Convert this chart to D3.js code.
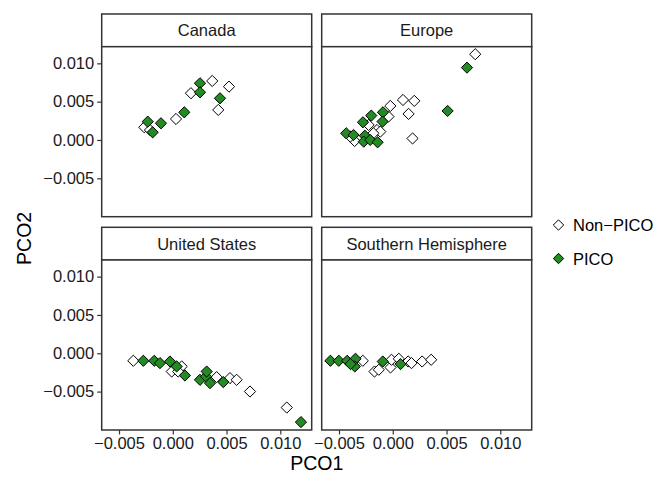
<!DOCTYPE html>
<html><head><meta charset="utf-8">
<script src="https://cdn.jsdelivr.net/npm/d3@7"></script>
<style>body{margin:0;background:#fff}text{font-family:"Liberation Sans",Arial,Helvetica,sans-serif}</style>
</head><body>
<svg id="c" width="656" height="479"></svg>
<script>
// ---- data ----
const regions = ["Canada", "Europe", "United States", "Southern Hemisphere"];
const groups = ["Non\u2212PICO", "PICO"];
const xTicks = [-0.005, 0.000, 0.005, 0.010];
const yTicks = [-0.005, 0.000, 0.005, 0.010];

const canadaNonPico = [[-0.00265,0.00166],[-0.00212,0.0013],[0.0003,0.00274],[0.00169,0.0061],[0.00367,0.0077],[0.00523,0.00696],[0.00423,0.00392]];
const canadaPico = [[-0.00233,0.00239],[-0.0011,0.00218],[-0.00187,0.0010],[0.00107,0.00361],[0.00253,0.0074],[0.00253,0.00622],[0.00439,0.00544]];

const europeNonPico = [[0.00767,0.01119],[0.00095,0.00522],[0.0020,0.0051],[0.00147,0.0034],[-0.00023,0.00444],[-0.0004,0.00305],[0.00184,0.0002],[-0.00147,0.0013],[-0.00225,0.00196],[-0.00116,0.00109],[-0.00355,-0.00013],[-0.00395,0.00044],[-0.0018,0.00087]];
const europePico = [[0.0069,0.00944],[0.0051,0.00379],[-0.00091,0.00361],[-0.0020,0.00318],[-0.00277,0.00231],[-0.00095,0.0024],[-0.00433,0.00087],[-0.00365,0.00065],[-0.0026,0.00056],[-0.0027,-0.00022],[-0.0021,0.0],[-0.00141,-0.0003]];

const usNonPico = [[-0.00367,-0.00098],[-0.0001,-0.00238],[0.00083,-0.00172],[0.0005,-0.00238],[0.00408,-0.00311],[0.00532,-0.00324],[0.00594,-0.00346],[0.00718,-0.00499],[0.0106,-0.00708]];
const usPico = [[-0.00274,-0.00098],[-0.00172,-0.00098],[-0.00119,-0.00128],[-0.00026,-0.00107],[0.00036,-0.00172],[0.00113,-0.0029],[0.00253,-0.00346],[0.00309,-0.00303],[0.00346,-0.00389],[0.00315,-0.00238],[0.0047,-0.00376],[0.01192,-0.00898]];

const shNonPico = [[-0.00279,-0.00098],[-0.0017,-0.00238],[-0.0013,-0.00215],[-0.00021,-0.00185],[-0.00012,-0.00085],[0.00056,-0.00072],[0.00143,-0.00107],[0.00174,-0.00128],[0.00273,-0.00107],[0.00357,-0.00085]];
const shPico = [[-0.0058,-0.00098],[-0.00502,-0.00098],[-0.00424,-0.00098],[-0.00347,-0.00072],[-0.00353,-0.00172],[-0.00393,-0.00141],[-0.00093,-0.00107],[0.00072,-0.00141]];

const nonPicoByRegion = [canadaNonPico, europeNonPico, usNonPico, shNonPico];
const picoByRegion = [canadaPico, europePico, usPico, shPico];

// ---- layout ----
const svg = d3.select("#c");
const colX = [101.7, 321.7];
const stripTop = [14, 227.3];
const stripH = 32.7, panelW = 210, panelH = 170;
const border = "#333333";
const fills = ["#ffffff", "#238b23"];
const fmt = d3.format(".3f");

const x = d3.scaleLinear().domain([-0.00661, 0.01292]).range([0, panelW]);
const y = d3.scaleLinear().domain([-0.01001, 0.01217]).range([panelH, 0]);

function diamond(r) { return `M0,${-r}L${r},0L0,${r}L${-r},0Z`; }

regions.forEach((name, i) => {
  const col = i % 2, row = Math.floor(i / 2);
  const px = colX[col], sy = stripTop[row], py = sy + stripH;
  const g = svg.append("g");

  // strip
  g.append("rect").attr("x", px).attr("y", sy).attr("width", panelW).attr("height", stripH)
    .attr("fill", "#fff").attr("stroke", border).attr("stroke-width", 1.5);
  g.append("text").attr("x", px + panelW / 2).attr("y", sy + stripH / 2)
    .attr("text-anchor", "middle").attr("dominant-baseline", "central")
    .attr("font-size", 16.5).attr("fill", "#1a1a1a").text(name);

  const p = g.append("g").attr("transform", `translate(${px},${py})`);
  p.append("rect").attr("width", panelW).attr("height", panelH).attr("fill", "#fff");

  const pts = [];
  nonPicoByRegion[i].forEach(d => pts.push({x: d[0], y: d[1], g: 0}));
  picoByRegion[i].forEach(d => pts.push({x: d[0], y: d[1], g: 1}));
  p.selectAll("path.pt").data(pts).join("path").attr("class", "pt")
    .attr("d", diamond(5.6))
    .attr("transform", d => `translate(${x(d.x)},${y(d.y)})`)
    .attr("fill", d => fills[d.g]).attr("stroke", "#000").attr("stroke-width", 1);

  p.append("rect").attr("width", panelW).attr("height", panelH)
    .attr("fill", "none").attr("stroke", border).attr("stroke-width", 1.5);

  // axes
  if (col === 0) {
    const ay = p.append("g").call(d3.axisLeft(y).tickValues(yTicks).tickFormat(fmt).tickSize(4.5).tickPadding(3));
    ay.select(".domain").remove();
    ay.selectAll("line").attr("stroke", border).attr("stroke-width", 1.2);
    ay.selectAll("text").attr("font-size", 16.5).attr("fill", "#1a1a1a").attr("font-family", "Liberation Sans, Arial, sans-serif");
  }
  if (row === 1) {
    const ax = p.append("g").attr("transform", `translate(0,${panelH})`)
      .call(d3.axisBottom(x).tickValues(xTicks).tickFormat(fmt).tickSize(4.5).tickPadding(3));
    ax.select(".domain").remove();
    ax.selectAll("line").attr("stroke", border).attr("stroke-width", 1.2);
    ax.selectAll("text").attr("font-size", 16.5).attr("fill", "#1a1a1a").attr("font-family", "Liberation Sans, Arial, sans-serif");
  }
});

// axis titles
svg.append("text").attr("x", (colX[0] + colX[1] + panelW) / 2).attr("y", 463)
  .attr("text-anchor", "middle").attr("dominant-baseline", "central")
  .attr("font-size", 19.5).attr("fill", "#000").text("PCO1");
svg.append("text").attr("transform", `translate(24,${(stripTop[0] + stripH + stripTop[1] + stripH + panelH) / 2}) rotate(-90)`)
  .attr("text-anchor", "middle").attr("dominant-baseline", "central")
  .attr("font-size", 19.5).attr("fill", "#000").text("PCO2");

// legend
const legY = [225, 258.5];
groups.forEach((gname, k) => {
  svg.append("path").attr("d", diamond(5.2)).attr("transform", `translate(558.5,${legY[k]})`)
    .attr("fill", fills[k]).attr("stroke", "#000").attr("stroke-width", 1);
  svg.append("text").attr("x", 573).attr("y", legY[k]).attr("dominant-baseline", "central")
    .attr("font-size", 16.5).attr("fill", "#000").text(gname);
});
</script>
</body></html>
